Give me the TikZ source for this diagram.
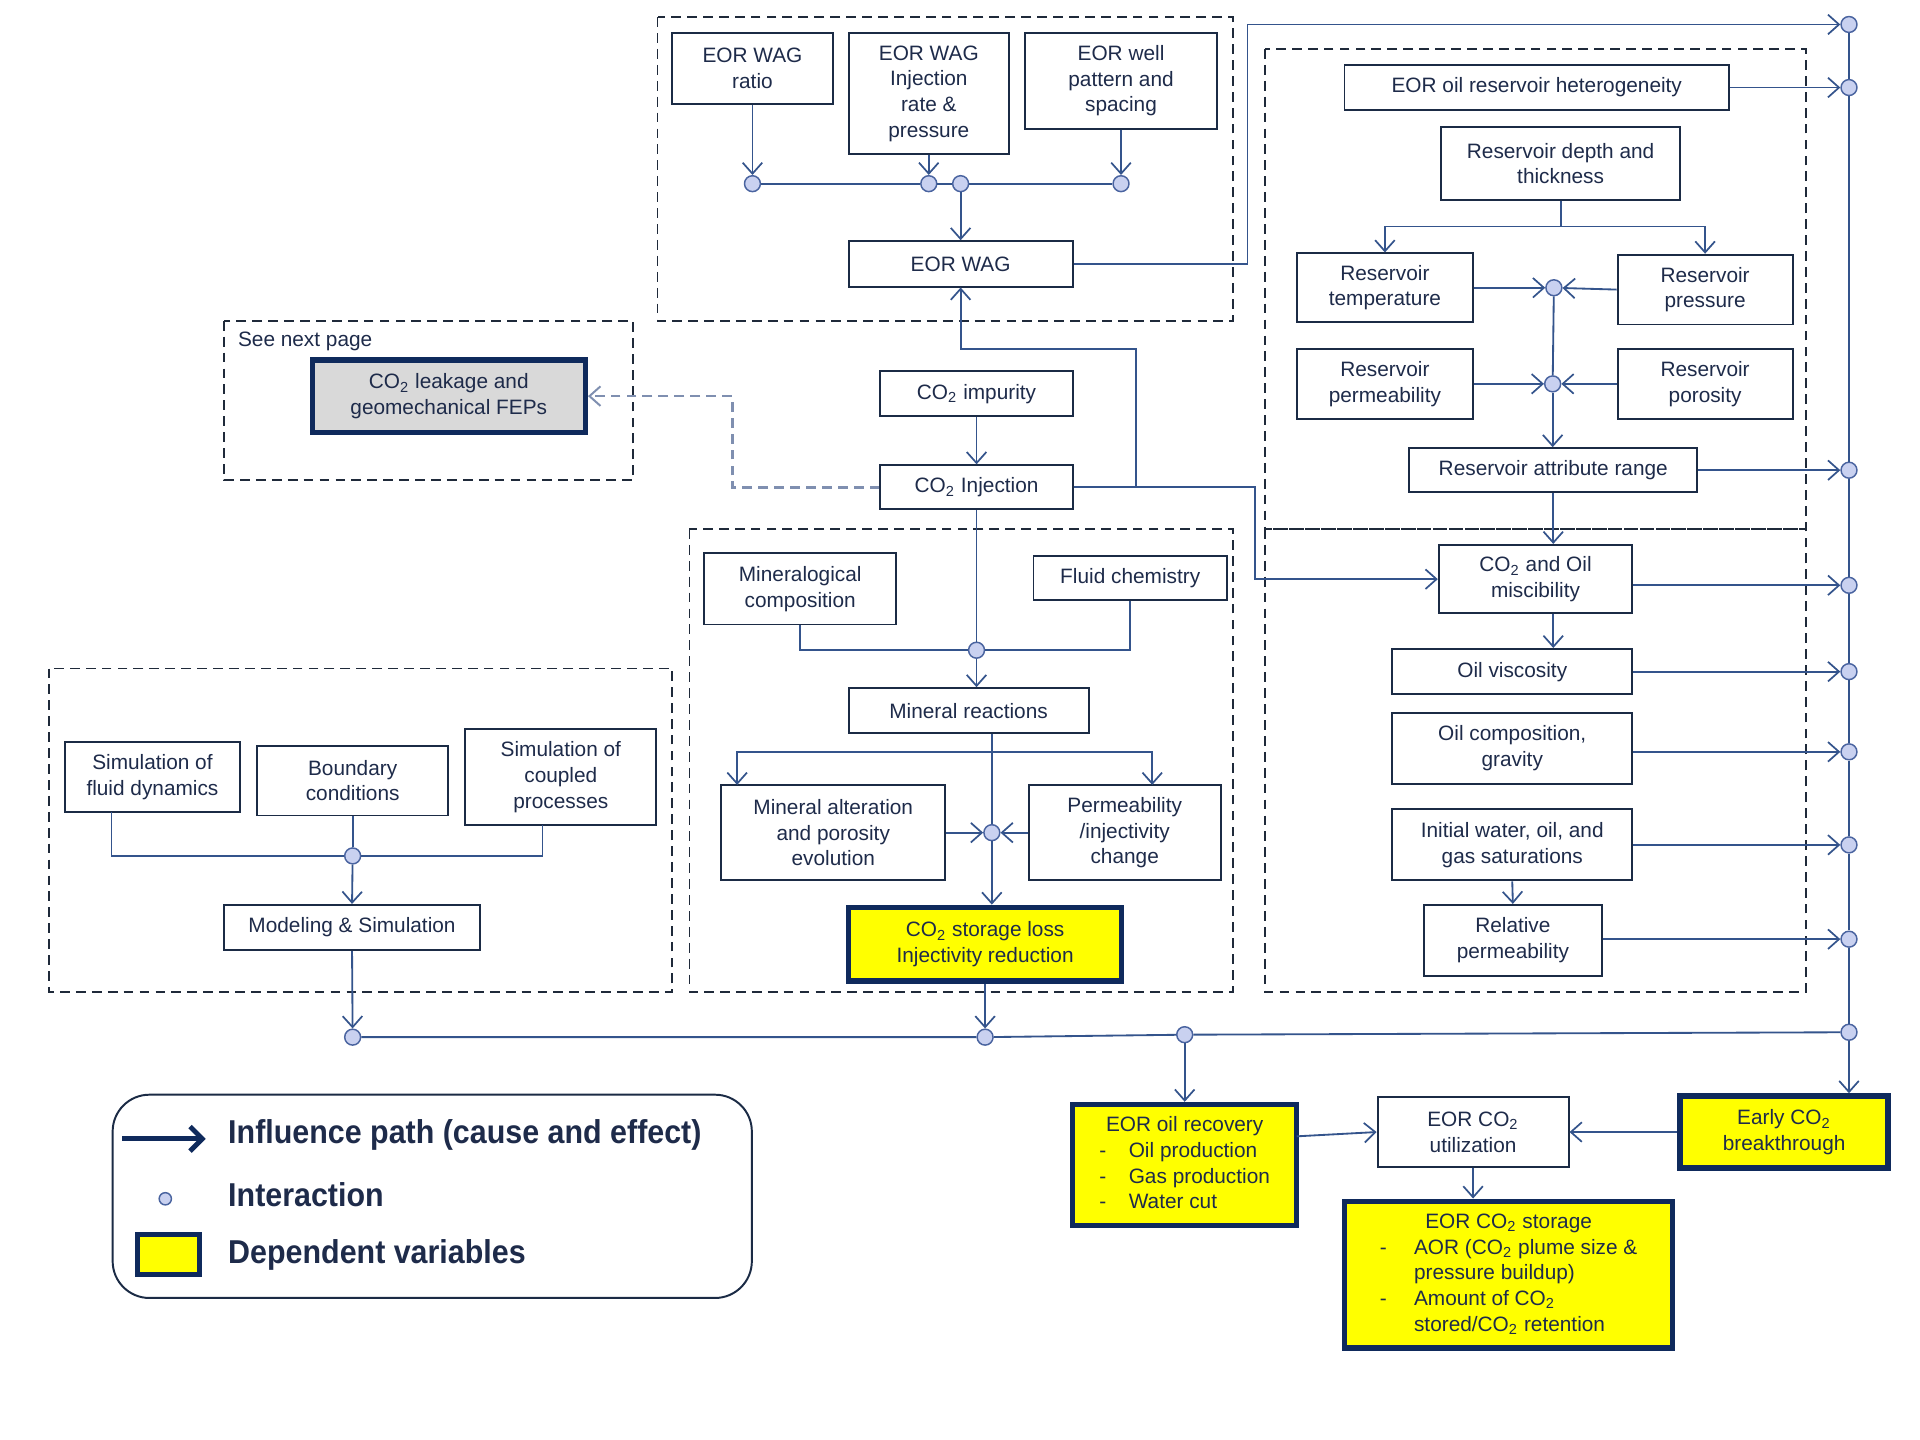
\documentclass[tikz,border=0pt]{standalone}
\usepackage{fontspec}
\setmainfont{Liberation Sans}
\newfontfamily\legfont[FakeStretch=0.92]{Liberation Sans}
\usetikzlibrary{arrows.meta}
\definecolor{lc}{HTML}{34548C}
\definecolor{bc}{HTML}{1B2B45}
\definecolor{tc}{HTML}{1E2B4A}
\definecolor{dotf}{HTML}{C9D1F0}
\definecolor{dotb}{HTML}{4A64A0}
\definecolor{nb}{HTML}{0F2A5C}
\definecolor{gc}{HTML}{1F2A3A}
\definecolor{dc}{HTML}{7F8FB0}
\definecolor{gf}{HTML}{D9D9D9}
\definecolor{yf}{HTML}{FFFF00}
\newcommand\cotwo{CO\textsubscript{2}}
\newcommand\mybox[7][]{%
  \pgfmathsetmacro\bxw{(#5-#3)*0.5}\pgfmathsetmacro\bxh{(#6-#4)*0.5}%
  \pgfmathsetmacro\bxx{(#3+#5)/2}\pgfmathsetmacro\bxy{(#4+#6)/2}%
  \node[box,minimum width=\bxw pt,minimum height=\bxh pt,#1] (#2) at (\bxx,\bxy) {#7};}
\begin{document}
\begin{tikzpicture}[x=0.5pt,y=-0.5pt,
  box/.style={draw=bc,line width=0.8pt,fill=white,text=tc,align=center,inner sep=1pt,font=\fontsize{8.5}{10.5}\selectfont},
  ybox/.style={fill=yf,draw=nb,line width=2.2pt},
  gbox/.style={fill=gf,draw=nb,line width=2.2pt},
  dot/.style={circle,draw=dotb,fill=dotf,line width=0.6pt,minimum size=6.5pt,inner sep=0pt},
  ln/.style={draw=lc,line width=0.75pt},
  arr/.style={ln,-{Straight Barb[length=4.5pt,width=8pt,line width=0.7pt]}},
  grp/.style={draw=gc,line width=0.7pt,dash pattern=on 4pt off 2.5pt},
  dasharr/.style={draw=dc,line width=1.1pt,dash pattern=on 4pt off 2.5pt,-{Straight Barb[length=4.5pt,width=8pt,line width=0.8pt]}},
  legtext/.style={anchor=west,text=tc,font=\legfont\bfseries\fontsize{13.5}{16}\selectfont,inner sep=0pt},
]
\fill[white] (0,0) rectangle (1568,1176);
\useasboundingbox (0,0) rectangle (1568,1176);

% dashed groups
\draw[grp] (537,14) rectangle (1007,262);
\draw[grp] (183,262) rectangle (517,392);
\draw[grp] (1033,40) rectangle (1475,432);
\draw[grp] (1033,432) rectangle (1475,810);
\draw[grp] (563,432) rectangle (1007,810);
\draw[grp] (40,546) rectangle (549,810);
\node[anchor=west,text=tc,font=\fontsize{8.5}{10.5}\selectfont,inner sep=0pt] (seenext) at (194,279) {See next page};

% boxes
\mybox{wagratio}{549}{27}{680}{85}{EOR WAG\\ratio}
\mybox{wagrate}{693}{27}{824}{126}{EOR WAG\\Injection\\rate \&\\pressure}
\mybox{wagwell}{837}{27}{994}{105}{EOR well\\pattern and\\spacing}
\mybox{wag}{693}{197}{876}{234}{EOR WAG}
\mybox[gbox]{leak}{255}{294}{478}{353}{\cotwo{} leakage and\\geomechanical FEPs}
\mybox{impurity}{719}{303}{876}{340}{\cotwo{} impurity}
\mybox{injection}{719}{380}{876}{416}{\cotwo{} Injection}
\mybox{hetero}{1098}{53}{1412}{90}{EOR oil reservoir heterogeneity}
\mybox{depth}{1177}{104}{1372}{163}{Reservoir depth and\\thickness}
\mybox{temp}{1059}{207}{1203}{263}{Reservoir\\temperature}
\mybox{press}{1321}{208}{1464}{265}{Reservoir\\pressure}
\mybox{perm}{1059}{285}{1203}{342}{Reservoir\\permeability}
\mybox{poros}{1321}{285}{1464}{342}{Reservoir\\porosity}
\mybox{range}{1151}{366}{1386}{402}{Reservoir attribute range}
\mybox{misc}{1175}{445}{1333}{501}{\cotwo{} and Oil\\miscibility}
\mybox{visc}{1137}{530}{1333}{567}{Oil viscosity}
\mybox{comp}{1137}{582}{1333}{640}{Oil composition,\\gravity}
\mybox{sat}{1137}{661}{1333}{719}{Initial water, oil, and\\gas saturations}
\mybox{relperm}{1163}{739}{1308}{797}{Relative\\permeability}
\mybox{minc}{575}{452}{732}{510}{Mineralogical\\composition}
\mybox{fluid}{844}{454}{1002}{490}{Fluid chemistry}
\mybox{minr}{693}{562}{889}{599}{Mineral reactions}
\mybox{alter}{589}{641}{772}{719}{Mineral alteration\\and porosity\\evolution}
\mybox{permchg}{840}{641}{997}{719}{Permeability\\/injectivity\\change}
\mybox[ybox]{loss}{693}{741}{916}{801}{\cotwo{} storage loss\\Injectivity reduction}
\mybox{simfl}{53}{606}{196}{663}{Simulation of\\fluid dynamics}
\mybox{bound}{210}{609}{366}{666}{Boundary\\conditions}
\mybox{simcp}{380}{595}{536}{674}{Simulation of\\coupled\\processes}
\mybox{model}{183}{739}{392}{776}{Modeling \& Simulation}
\mybox[ybox]{recov}{876}{902}{1059}{1001}{\begin{tabular}{@{}l@{}l@{}}\multicolumn{2}{@{}c@{}}{EOR oil recovery}\\ \makebox[12pt][l]{-}&Oil production\\ \makebox[12pt][l]{-}&Gas production\\ \makebox[12pt][l]{-}&Water cut\end{tabular}}
\mybox{util}{1125}{896}{1281}{953}{EOR \cotwo\\utilization}
\mybox[ybox]{early}{1372}{895}{1542}{954}{Early \cotwo\\breakthrough}
\mybox[ybox]{storage}{1098}{981}{1366}{1101}{\begin{tabular}{@{}l@{}l@{}}\multicolumn{2}{@{}c@{}}{EOR \cotwo{} storage}\\ \makebox[14pt][l]{-}&AOR (\cotwo{} plume size \&\\ &pressure buildup)\\ \makebox[14pt][l]{-}&Amount of \cotwo\\ &stored/\cotwo{} retention\end{tabular}}

% interaction dots
\node[dot] (d1) at (614.5,150) {};
\node[dot] (d2) at (758.5,150) {};
\node[dot] (d3) at (784.5,150) {};
\node[dot] (d4) at (915.5,150) {};
\node[dot] (jt) at (1269,235) {};
\node[dot] (jp) at (1268,313.5) {};
\node[dot] (jm) at (797.5,531) {};
\node[dot] (js) at (810,680) {};
\node[dot] (jsim) at (288,699) {};
\node[dot] (bm) at (288,847) {};
\node[dot] (bl) at (804.5,847) {};
\node[dot] (bc) at (967.5,845) {};
\node[dot] (r1) at (1510,20) {};
\node[dot] (r2) at (1510,71.5) {};
\node[dot] (r3) at (1510,384) {};
\node[dot] (r4) at (1510,478) {};
\node[dot] (r5) at (1510,548.5) {};
\node[dot] (r6) at (1510,614) {};
\node[dot] (r7) at (1510,690) {};
\node[dot] (r8) at (1510,767) {};
\node[dot] (rB) at (1510,843) {};

% coordinates for off-centre connector ends
\coordinate (br) at (928,398);
\coordinate (mb) at (810,614);
\coordinate (aa) at (602,641);
\coordinate (pa) at (941,641);
\coordinate (s1) at (91,663);
\coordinate (s3) at (443,674);
\coordinate (dj) at (1274.5,185);
\coordinate (re) at (1059,928);

% WAG group
\draw[arr] (wagratio.south) -- (d1);
\draw[arr] (wagrate.south) -- (d2);
\draw[arr] (wagwell.south) -- (d4);
\draw[ln] (d1) -- (d2) -- (d3) -- (d4);
\draw[arr] (d3) -- (d3 |- wag.north);
\draw[arr] (wag.east) -- ++(142,0) |- (r1);

% CO2 injection
\draw[arr] (impurity) -- (injection);
\draw[arr] (injection.east) -- (1025,398) |- (misc.west);
\draw[arr] (br) |- (784.5,285) -- (wag.south);
\draw[dasharr] (injection.west) -- (598,398) |- (leak.east);

% mineral group
\draw[ln] (injection.south) -- (jm);
\draw[ln] (minc.south) |- (jm);
\draw[ln] (fluid.south) |- (jm);
\draw[arr] (jm) -- (jm |- minr.north);
\draw[ln] (js |- minr.south) -- (js);
\draw[arr] (mb) -| (aa);
\draw[arr] (mb) -| (pa);
\draw[arr] (alter.east) -- (js);
\draw[arr] (permchg.west) -- (js);
\draw[arr] (js) -- (js |- loss.north);

% simulation group
\draw[ln] (s1) |- (jsim);
\draw[ln] (s3) |- (jsim);
\draw[ln] (bound.south) -- (jsim);
\draw[arr] (jsim) -- (model.north);
\draw[arr] (model.south) -- (bm);
\draw[arr] (loss.south) -- (bl);

% reservoir group
\draw[ln] (depth.south) -- (dj);
\draw[arr] (dj) -| (temp.north);
\draw[arr] (dj) -| (press.north);
\draw[arr] (temp.east) -- (jt);
\draw[arr] (press.west) -- (jt);
\draw[arr] (perm.east) -- (jp);
\draw[arr] (poros.west) -- (jp);
\draw[ln] (jt) -- (jp);
\draw[arr] (jp) -- (jp |- range.north);
\draw[arr] (range.south) -- (range.south |- misc.north);
\draw[arr] (misc.south -| range.south) -- (visc.north -| range.south);
\draw[arr] (sat.south) -- (relperm.north);

% to right bus
\draw[arr] (hetero.east) -- (r2);
\draw[arr] (range.east) -- (r3);
\draw[arr] (misc.east |- r4) -- (r4);
\draw[arr] (visc.east) -- (r5);
\draw[arr] (comp.east |- r6) -- (r6);
\draw[arr] (sat.east) -- (r7);
\draw[arr] (relperm.east |- r8) -- (r8);
\draw[ln] (r1) -- (r2) -- (r3) -- (r4) -- (r5) -- (r6) -- (r7) -- (r8) -- (rB);
\draw[arr] (rB) -- (rB |- early.north);

% bottom bus
\draw[ln] (bm) -- (bl) -- (bc) -- (rB);
\draw[arr] (bc) -- (bc |- recov.north);
\draw[arr] (re) -- (util.west);
\draw[arr] (early.west) -- (util.east);
\draw[arr] (util.south) -- (util.south |- storage.north);

% legend
\draw[draw=bc,line width=0.8pt,rounded corners=15pt] (92,894) rectangle (614,1060);
\coordinate (la1) at (100,930);
\coordinate (la2) at (168,930);
\draw[draw=nb,line width=2pt,-{Straight Barb[length=5pt,width=10pt,line width=2pt]}] (la1) -- (la2);
\node[dot,minimum size=5pt] (ldot) at (135,979) {};
\node[draw=nb,fill=yf,line width=2pt,minimum width=25.5pt,minimum height=16.5pt,inner sep=0pt] (lsq) at (137.5,1024.5) {};
\node[legtext] (lt1) at (186,927) {Influence path (cause and effect)};
\node[legtext] (lt2) at (186,976) {Interaction};
\node[legtext] (lt3) at (186,1025) {Dependent variables};
\end{tikzpicture}
\end{document}
